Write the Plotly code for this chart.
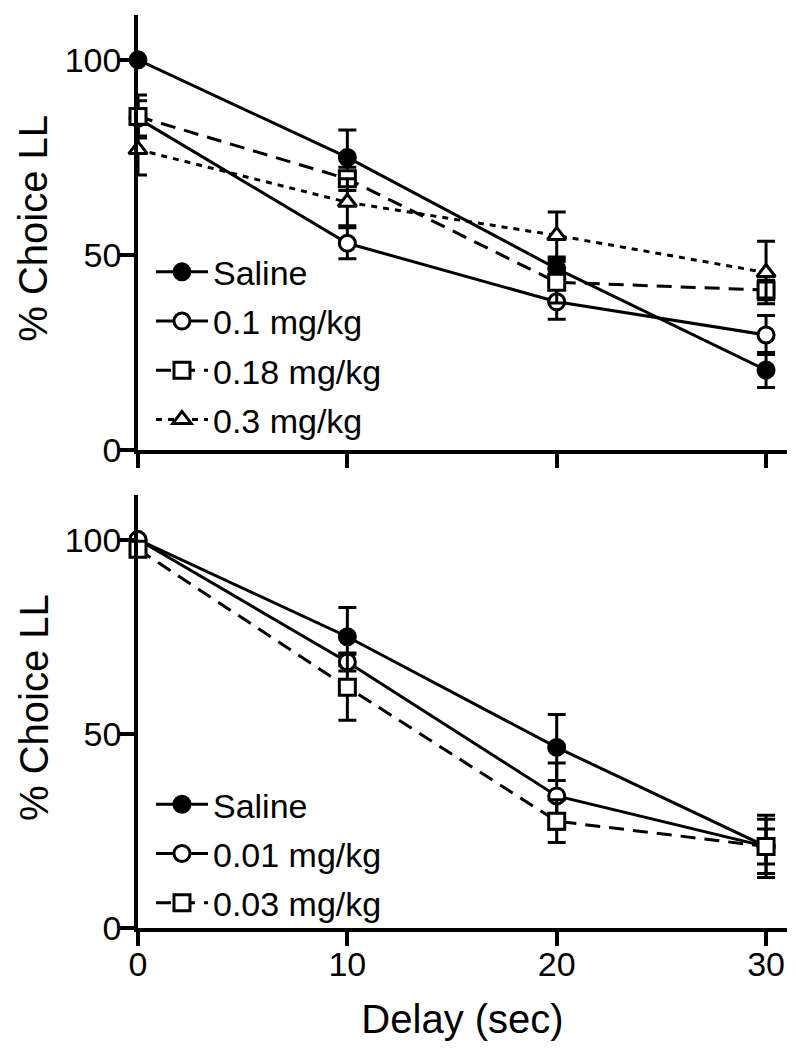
import plotly.graph_objects as go

# ---------------- data ----------------
delays = [0, 10, 20, 30]

# top panel
top_names = ["Saline", "0.1 mg/kg", "0.18 mg/kg", "0.3 mg/kg"]
top_saline = [100, 75, 46.5, 20.5]
top_saline_err = [0, 7, 3, 4.5]
top_d01 = [85, 53, 38, 29.5]
top_d01_err = [4.5, 4, 4.5, 5]
top_d018 = [85.5, 69.5, 43, 41]
top_d018_err = [5.5, 3, 5.3, 2.5]
top_d03 = [77, 63.5, 55, 45.5]
top_d03_err = [6.5, 6, 6, 8]

# bottom panel
bot_names = ["Saline", "0.01 mg/kg", "0.03 mg/kg"]
bot_saline = [100, 75, 46.5, 21]
bot_saline_err = [0, 7.5, 8.5, 4.5]
bot_d001 = [100, 68.5, 34, 21]
bot_d001_err = [0, 2.3, 8.5, 7]
bot_d003 = [97.5, 62, 27.5, 21]
bot_d003_err = [0, 8.5, 5.5, 8]

y_ticks = [0, 50, 100]
x_ticks = [0, 10, 20, 30]
y_title = "% Choice LL"
x_title = "Delay (sec)"

FONT = "Liberation Sans, Arial, sans-serif"
LW = 3

styles_top = [
    dict(symbol="circle", fill="black", dash="solid"),
    dict(symbol="circle", fill="white", dash="solid"),
    dict(symbol="square", fill="white", dash="15px,9px"),
    dict(symbol="triangle-up", fill="white", dash="6px,6px"),
]
styles_bot = [
    dict(symbol="circle", fill="black", dash="solid"),
    dict(symbol="circle", fill="white", dash="solid"),
    dict(symbol="square", fill="white", dash="15px,9px"),
]

fig = go.Figure()


def add_series(name, ys, errs, st, xa, ya, legend, group):
    fig.add_trace(go.Scatter(
        x=delays, y=ys, name=name, mode="lines+markers",
        xaxis=xa, yaxis=ya, legend=legend, legendgroup=group,
        cliponaxis=False,
        line=dict(color="black", width=LW, dash=st["dash"]),
        marker=dict(symbol=st["symbol"], size=16, color=st["fill"],
                    line=dict(color="black", width=3)),
        error_y=dict(type="data", array=errs, visible=True,
                     color="black", thickness=3, width=9),
    ))


top_data = [(top_saline, top_saline_err), (top_d01, top_d01_err),
            (top_d018, top_d018_err), (top_d03, top_d03_err)]
for i, (nm, (ys, es), st) in enumerate(zip(top_names, top_data, styles_top)):
    add_series(nm, ys, es, st, "x", "y", "legend", f"t{i}")

bot_data = [(bot_saline, bot_saline_err), (bot_d001, bot_d001_err),
            (bot_d003, bot_d003_err)]
for i, (nm, (ys, es), st) in enumerate(zip(bot_names, bot_data, styles_bot)):
    add_series(nm, ys, es, st, "x2", "y2", "legend2", f"b{i}")

axis_common = dict(showline=True, linecolor="black", linewidth=3.5,
                   ticks="outside", ticklen=14, tickwidth=3.5, tickcolor="black",
                   showgrid=False, zeroline=False, automargin=False,
                   tickfont=dict(family=FONT, size=34, color="black"))

fig.update_layout(
    width=796, height=1050,
    margin=dict(l=130, r=17, t=7, b=130, autoexpand=False),
    paper_bgcolor="white", plot_bgcolor="white",
    font=dict(family=FONT, color="black"),
    xaxis=dict(domain=[0, 1], range=[0, 31], anchor="y",
               tickvals=x_ticks, showticklabels=False, **axis_common),
    yaxis=dict(domain=[0.5235, 1], range=[0, 111.5], anchor="x",
               tickvals=y_ticks, ticklabelstandoff=-8, **axis_common),
    xaxis2=dict(domain=[0, 1], range=[0, 31], anchor="y2",
                tickvals=x_ticks, ticklabelstandoff=-11,
                title=dict(text=x_title, font=dict(family=FONT, size=40),
                           standoff=24),
                **axis_common),
    yaxis2=dict(domain=[0, 0.4743], range=[0, 111.5], anchor="x2",
                tickvals=y_ticks, ticklabelstandoff=-8, **axis_common),
    legend=dict(x=0.02, y=0.75, xanchor="left", yanchor="top",
                font=dict(family=FONT, size=34, color="black"),
                bgcolor="rgba(0,0,0,0)", traceorder="grouped",
                tracegroupgap=2, itemwidth=52),
    legend2=dict(x=0.02, y=-0.004, xanchor="left", yanchor="bottom",
                 font=dict(family=FONT, size=34, color="black"),
                 bgcolor="rgba(0,0,0,0)", traceorder="grouped",
                 tracegroupgap=2, itemwidth=52),
)

# y-axis titles placed as annotations, kept fully inside the figure
for yc in (0.7665, 0.2415):
    fig.add_annotation(text=y_title, xref="paper", yref="paper",
                       x=-0.161, y=yc, xanchor="center", yanchor="middle",
                       textangle=-90, showarrow=False,
                       font=dict(family=FONT, size=40, color="black"))

fig.write_html("out.html")
